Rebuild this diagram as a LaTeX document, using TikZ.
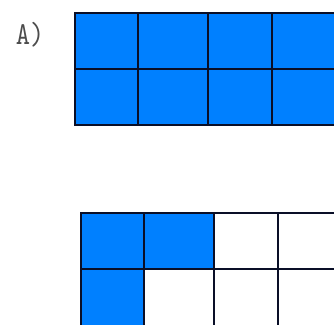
\documentclass[tikz,border=0pt]{standalone}
\definecolor{cellblue}{RGB}{0,128,255}
\definecolor{gridline}{RGB}{10,15,40}

\begin{document}
\begin{tikzpicture}[x=1pt,y=-1pt,
    cell/.style={draw=gridline,line width=1.4pt},
    full/.style={cell,fill=cellblue}]
  \useasboundingbox (0,0) rectangle (334,324);
  \clip (0,0) rectangle (334,324);
  % label of the first grid
  \node[font=\ttfamily,text=black!70,inner sep=0pt] (lblA) at (30,35) {\scalebox{2.7}[3.2]{A)}};
  % first grid: all cells filled
  \foreach \xa/\xb in {75/138, 138/208, 208/272, 272/340}{
    \draw[full] (\xa,13) rectangle (\xb,69);
    \draw[full] (\xa,69) rectangle (\xb,125);
  }
  % second grid: three cells filled
  \foreach \xa/\xb/\ta/\tb in {81/144/full/full, 144/214/full/cell,
                               214/278/cell/cell, 278/340/cell/cell}{
    \draw[\ta] (\xa,213) rectangle (\xb,269);
    \draw[\tb] (\xa,269) rectangle (\xb,330);
  }
\end{tikzpicture}
\end{document}
